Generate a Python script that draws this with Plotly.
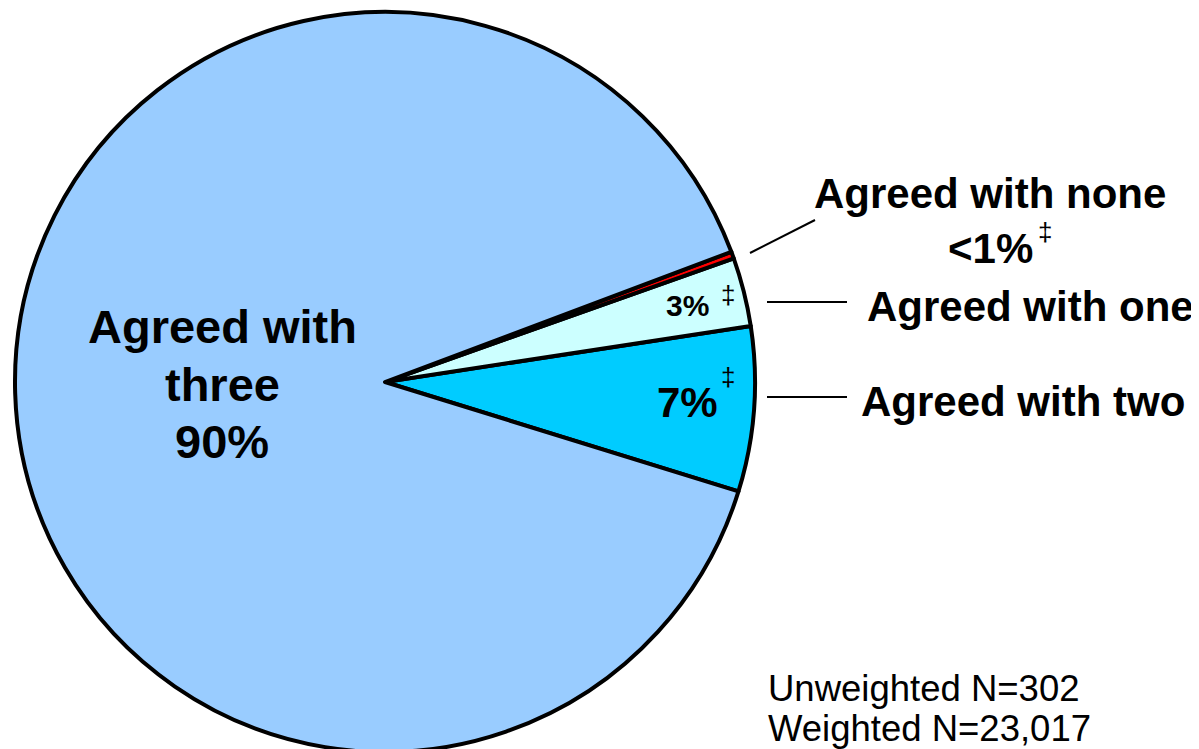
import plotly.graph_objects as go

W, H = 1199, 749
OFF = 8  # page body margin around the figure

# Data
categories = ["Agreed with two", "Agreed with one", "Agreed with none", "Agreed with three"]
values = [7.2, 3.0, 0.3, 89.5]
colors = ["#00CCFF", "#CCFFFF", "#FF0000", "#99CCFF"]

FONT = "Arial, 'Liberation Sans', sans-serif"


def px(x):
    return (x - OFF) / W


def py(y):
    return 1 - (y - OFF) / H


CX, CY, R = 385, 382, 370

fig = go.Figure()
fig.add_trace(go.Pie(
    labels=categories,
    values=values,
    sort=False,
    direction="counterclockwise",
    rotation=81.28,
    marker=dict(colors=colors, line=dict(color="black", width=4)),
    textinfo="none",
    hoverinfo="skip",
    showlegend=False,
    domain=dict(x=[px(CX - R), px(CX + R)], y=[py(CY + R), py(CY - R)]),
))

annotations = []


def ann(x, y, text, size, bold=True, xanchor="center", align="center"):
    t = f"<b>{text}</b>" if bold else text
    annotations.append(dict(
        x=px(x), y=py(y), xref="paper", yref="paper", text=t, showarrow=False,
        font=dict(family=FONT, size=size, color="black"),
        xanchor=xanchor, yanchor="middle", align=align,
    ))


ann(222, 326, "Agreed with", 47)
ann(222, 384, "three", 47)
ann(222, 441, "90%", 47)
ann(687, 402, "7%", 42)
ann(728, 377, "‡", 26, bold=False)
ann(687, 305, "3%", 30)
ann(728, 295, "‡", 26, bold=False)
ann(990, 194, "Agreed with none", 42)
ann(990, 249, "<1%", 42)
ann(1045, 232, "‡", 26, bold=False)
ann(1030, 306, "Agreed with one", 42)
ann(1023, 401, "Agreed with two", 42)
ann(766, 688, "Unweighted N=302", 36.5, bold=False, xanchor="left")
ann(766, 728, "Weighted N=23,017", 36.5, bold=False, xanchor="left")

shapes = [
    dict(type="line", xref="paper", yref="paper", x0=px(750), y0=py(253), x1=px(815), y1=py(220),
         line=dict(color="black", width=2)),
    dict(type="line", xref="paper", yref="paper", x0=px(767), y0=py(302), x1=px(847), y1=py(302),
         line=dict(color="black", width=2)),
    dict(type="line", xref="paper", yref="paper", x0=px(767), y0=py(397), x1=px(847), y1=py(397),
         line=dict(color="black", width=2)),
]

fig.update_layout(
    width=W, height=H,
    margin=dict(l=0, r=0, t=0, b=0),
    paper_bgcolor="white", plot_bgcolor="white",
    annotations=annotations, shapes=shapes,
)

fig.write_html("out.html", config={"displayModeBar": False})
